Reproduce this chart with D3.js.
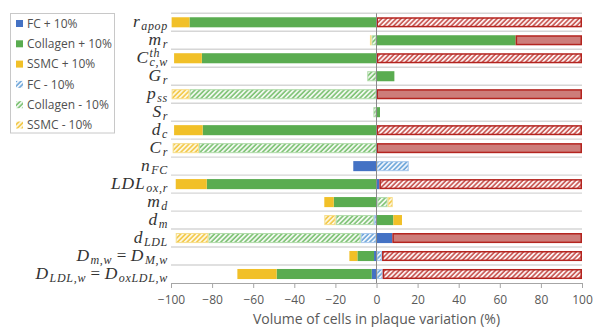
<!DOCTYPE html>
<html><head><meta charset="utf-8">
<script src="https://cdn.jsdelivr.net/npm/d3@7"></script>
<style>body{margin:0;background:#fff}</style>
</head><body>
<svg id="c" width="593" height="327"></svg>
<script>
// ---------- data ----------
const categories = ["r_{apop}", "m_{r}", "C_{c,w}^{th}", "G_{r}", "p_{ss}", "S_{r}", "d_{c}", "C_{r}",
  "n_{FC}", "LDL_{ox,r}", "m_{d}", "d_{m}", "d_{LDL}", "D_{m,w} = D_{M,w}", "D_{LDL,w} = D_{oxLDL,w}"];
const fcPlus   = [0, 0, 0, 0, 0, 0, 0, 0, -11.3, 1.4, 0.4, 0, 7.7, -1.2, -2.3];
const colPlus  = [-91, 67.7, -85, 8.7, 0, 1.7, -84.6, 0, 0, -82.6, -20.8, 8.2, 0, -8.1, -46.3];
const sscPlus  = [-8.7, 0, -13.5, 0, 0, 0, -13.9, 0, 0, -15.1, -4.6, 4.2, 0, -3.9, -19.1];
const fcMinus  = [0, 0, 0, 0, 0, 0, 0, 0, 15.7, 0, 0, -1.3, -7.7, 2.7, 3];
const colMinus = [0, -2.4, 0, -4.5, -91, -1.5, 0, -86.4, 0, 0, 5, -18.6, -74.1, 0, 0];
const sscMinus = [0, -0.8, 0, 0, -8.7, 0, 0, -12.8, 0, 0, 2.5, -5.5, -15.9, 0, 0];
const redSolid = [0, 32.3, 0, 0, 100, 0, 0, 100, 0, 0, 0, 0, 92.3, 0, 0];
const redHatch = [100, 0, 100, 0, 0, 0, 100, 0, 0, 98.6, 0, 0, 0, 97.3, 97];
const legendNames = ["FC + 10%", "Collagen + 10%", "SSMC + 10%", "FC - 10%", "Collagen - 10%", "SSMC - 10%"];
const xTicks = [-100, -80, -60, -40, -20, 0, 20, 40, 60, 80, 100];
const xTitle = "Volume of cells in plaque variation (%)";

// ---------- setup ----------
const keys = ["fcPlus","colPlus","sscPlus","fcMinus","colMinus","sscMinus","redSolid","redHatch"];
const seriesData = {fcPlus, colPlus, sscPlus, fcMinus, colMinus, sscMinus, redSolid, redHatch};
const rows = categories.map((c, i) => {
  const r = {cat: c};
  keys.forEach(k => r[k] = seriesData[k][i]);
  return r;
});

const svg = d3.select("#c");
const x = d3.scaleLinear().domain([-100, 100]).range([171, 582]);
const y = d3.scaleBand().domain(categories).range([13.3, 283]).paddingInner(0.44).paddingOuter(0.22);

const defs = svg.append("defs");
function pattern(id, color, bg, w) {
  const p = defs.append("pattern").attr("id", id).attr("patternUnits", "userSpaceOnUse")
    .attr("width", 3.4).attr("height", 3.4).attr("patternTransform", "rotate(45)");
  p.append("rect").attr("width", 3.4).attr("height", 3.4).attr("fill", bg);
  p.append("line").attr("x1", 0.9).attr("y1", 0).attr("x2", 0.9).attr("y2", 3.4)
    .attr("stroke", color).attr("stroke-width", w);
}
pattern("hBlue", "#5b9bd5", "#eef4fb", 1.4);
pattern("hGreen", "#6dbb63", "#f1f8ef", 1.4);
pattern("hYellow", "#f2c232", "#fdf7e0", 1.4);
pattern("hRed", "#c0403b", "#fcf0f0", 1.4);

const style = {
  fcPlus:   {fill: "#4472c4", stroke: "none"},
  colPlus:  {fill: "#5aac50", stroke: "none"},
  sscPlus:  {fill: "#f1c028", stroke: "none"},
  fcMinus:  {fill: "url(#hBlue)", stroke: "#a9c8ec"},
  colMinus: {fill: "url(#hGreen)", stroke: "#b2dcab"},
  sscMinus: {fill: "url(#hYellow)", stroke: "#f6de8c"},
  redSolid: {fill: "#cd7d7a", stroke: "#b4241f"},
  redHatch: {fill: "url(#hRed)", stroke: "#b4241f"}
};

// gridlines
const step = y.step();
d3.range(categories.length).forEach(i => {
  svg.append("line").attr("x1", x(-100)).attr("x2", x(100))
    .attr("y1", 13.3 + i * step).attr("y2", 13.3 + i * step)
    .attr("stroke", "#d6d6d6").attr("stroke-width", 1.4);
});

// bars
const stacked = d3.stack().keys(keys).offset(d3.stackOffsetDiverging)(rows);
stacked.forEach(layer => {
  const st = style[layer.key];
  const isRed = layer.key.startsWith("red");
  const ins = isRed ? 0.75 : (st.stroke !== "none" ? 0.5 : 0);
  svg.append("g").selectAll("rect")
    .data(layer.filter(d => Math.abs(d[1] - d[0]) > 0.001))
    .join("rect")
    .attr("x", d => x(Math.min(d[0], d[1])) + ins)
    .attr("width", d => Math.max(0.5, Math.abs(x(d[1]) - x(d[0])) - 2 * ins))
    .attr("y", d => y(d.data.cat) + ins)
    .attr("height", y.bandwidth() - 2 * ins)
    .attr("fill", st.fill)
    .attr("stroke", st.stroke)
    .attr("stroke-width", isRed ? 1.5 : 1);
});

// zero line
svg.append("line").attr("x1", x(0)).attr("x2", x(0)).attr("y1", 13.3).attr("y2", 283)
  .attr("stroke", "#8a8a8a").attr("stroke-width", 1);

// x axis
const ax = svg.append("g").attr("transform", "translate(0,283)")
  .call(d3.axisBottom(x).tickValues(xTicks).tickSize(5).tickSizeOuter(0).tickPadding(7.5));
ax.select(".domain").attr("stroke", "#a6a6a6");
ax.selectAll(".tick line").attr("stroke", "#a6a6a6");
ax.selectAll(".tick text").attr("fill", "#595959").style("font-family", "'Open Sans'").style("font-size", "12px");

svg.append("text").attr("x", x(0)).attr("y", 323.5).attr("text-anchor", "middle")
  .attr("fill", "#595959").style("font-family", "'Open Sans'").style("font-size", "14px").text(xTitle);

// category labels (LaTeX-lite)
function parse(s) {
  const re = /([_^])\{([^}]*)\}|([^_^]+)/g; let m; const out = [];
  while ((m = re.exec(s))) {
    if (m[1]) out.push({t: m[2], type: m[1] === "_" ? "sub" : "sup"});
    else out.push({t: m[3], type: "main"});
  }
  return out;
}
const mainFont = "'Liberation Serif'";
categories.forEach(c => {
  const g = svg.append("g");
  const base = y(c) + y.bandwidth() / 2 + 5;
  const toks = parse(c);
  let cx = 0;
  for (let i = 0; i < toks.length; i++) {
    const tk = toks[i];
    if (tk.type === "main") {
      const parts = tk.t.split(/(\s*=\s*)/);
      parts.forEach(p => {
        if (!p) return;
        if (p.trim() === "=") {
          cx += 4.5;
          const t = g.append("text").attr("x", cx).attr("y", base).style("font-family", mainFont)
            .style("font-size", "17px").attr("fill", "#333").text("=");
          cx += t.node().getComputedTextLength() + 4.5;
        } else {
          const t = g.append("text").attr("x", cx).attr("y", base).style("font-family", mainFont)
            .style("font-style", "italic").style("font-size", "17.5px").style("letter-spacing", "0.9px")
            .attr("fill", "#333").text(p);
          cx += t.node().getComputedTextLength();
        }
      });
    } else {
      let w = 0;
      const grp = [tk];
      if (toks[i + 1] && toks[i + 1].type !== "main" && toks[i + 1].type !== tk.type) { grp.push(toks[i + 1]); i++; }
      grp.forEach(s => {
        const t = g.append("text").attr("x", cx + 0.5).attr("y", base + (s.type === "sub" ? 3 : -6.5))
          .style("font-family", mainFont).style("font-style", "italic").style("font-size", "12px")
          .style("letter-spacing", "0.7px").attr("fill", "#333").text(s.t);
        w = Math.max(w, t.node().getComputedTextLength() + 0.5);
      });
      cx += w;
    }
  }
  g.attr("transform", `translate(${168 - cx},0)`);
});

// legend
const lg = svg.append("g");
lg.append("rect").attr("x", 10.5).attr("y", 13.5).attr("width", 104).attr("height", 119.5)
  .attr("fill", "#fff").attr("stroke", "#c8c8c8").attr("stroke-width", 1);
const legendFills = ["#4472c4", "#5aac50", "#f1c028", "url(#hBlue)", "url(#hGreen)", "url(#hYellow)"];
legendNames.forEach((n, i) => {
  const cy = 23.5 + i * 20.3;
  lg.append("rect").attr("x", 16).attr("y", cy - 3.5).attr("width", 7).attr("height", 7)
    .attr("fill", legendFills[i]);
  lg.append("text").attr("x", 27).attr("y", cy + 4.2).attr("fill", "#505050")
    .style("font-family", "'Open Sans'").style("font-size", "12px").text(n);
});
</script>
</body></html>
